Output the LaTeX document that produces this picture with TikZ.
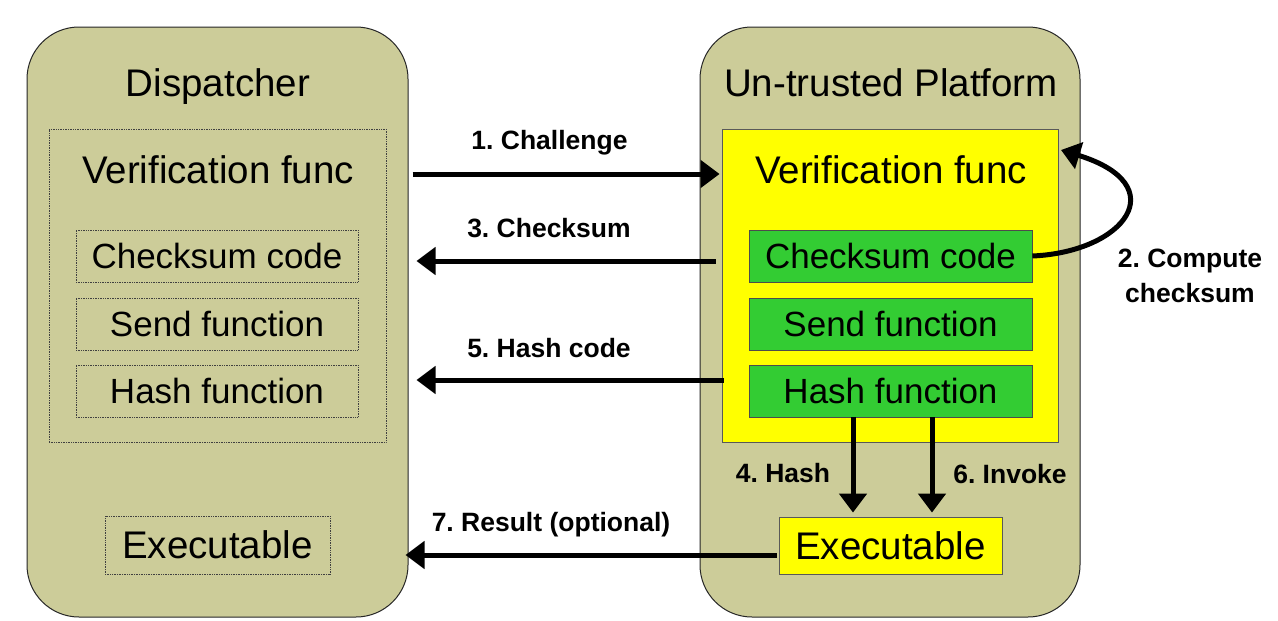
\documentclass[tikz,border=0pt]{standalone}
\usepackage{fontspec}
\setmainfont{Liberation Sans}
\usetikzlibrary{arrows.meta}
\definecolor{olivebg}{RGB}{204,204,153}
\definecolor{yellowbox}{RGB}{255,255,0}
\definecolor{greenbox}{RGB}{51,204,51}
\frenchspacing
\begin{document}
\begin{tikzpicture}[x=1pt,y=-1pt,
  container/.style={draw=black!85,line width=1pt,fill=olivebg,rounded corners=52pt,inner sep=0pt},
  dotbox/.style={draw=black!75,densely dotted,line width=0.7pt,inner sep=0pt},
  ybox/.style={draw=black!65,line width=0.8pt,fill=yellowbox,inner sep=0pt},
  gbox/.style={draw=black!70,line width=0.8pt,fill=greenbox,inner sep=0pt},
  big/.style={font=\fontsize{38.5}{40}\selectfont,inner sep=0pt},
  mid/.style={font=\fontsize{35}{38}\selectfont,inner sep=0pt},
  lbl/.style={font=\bfseries\fontsize{26.5}{35}\selectfont,inner sep=0pt,anchor=base},
  arr/.style={line width=5pt,-{Triangle[length=19pt,width=27pt]}}
]
\useasboundingbox (0,0) rectangle (1278,621);
% containers
\node[container,minimum width=381pt,minimum height=590pt] (L) at (217.5,322) {};
\node[container,minimum width=380pt,minimum height=590pt] (R) at (890,322) {};
\node[big,anchor=base] (Lt) at (218,96) {Dispatcher};
\node[big,anchor=base] (Rt) at (891,96) {Un-trusted Platform};
% left side
\node[dotbox,minimum width=337pt,minimum height=313pt] (Lv) at (217.5,285.5) {};
\node[big] (Lvt) at (218,170) {Verification func};
\node[dotbox,mid,minimum width=282pt,minimum height=52pt] (Lc) at (217,256) {Checksum code};
\node[dotbox,mid,minimum width=282pt,minimum height=52pt] (Ls) at (217,324) {Send function};
\node[dotbox,mid,minimum width=282pt,minimum height=52pt] (Lh) at (217,391) {Hash function};
\node[dotbox,big,minimum width=225pt,minimum height=58pt] (Le) at (217.5,545) {Executable};
% right side
\node[ybox,minimum width=336pt,minimum height=313pt] (Rv) at (890,285.5) {};
\node[big] (Rvt) at (891,170) {Verification func};
\node[gbox,mid,minimum width=283pt,minimum height=52pt] (Rc) at (890.5,256) {Checksum code};
\node[gbox,mid,minimum width=283pt,minimum height=52pt] (Rs) at (890.5,324) {Send function};
\node[gbox,mid,minimum width=283pt,minimum height=52pt] (Rh) at (890.5,391) {Hash function};
\node[ybox,big,minimum width=223pt,minimum height=57pt] (Re) at (890.5,545.5) {Executable};
% arrows
\draw[arr] ([xshift=4pt]L.east |- 0,174) -- ([xshift=-2pt]Rv.west |- 0,174);
\draw[arr] ([xshift=-6pt]Rv.west |- 0,261) -- ([xshift=8pt]L.east |- 0,261);
\draw[arr] ([xshift=2pt]Rv.west |- 0,380) -- ([xshift=8pt]L.east |- 0,380);
\draw[arr] ([xshift=-2pt]Re.west |- 0,555) -- ([xshift=-3pt]L.east |- 0,555);
\draw[arr] (Rh.south -| 853,0) -- ([yshift=4pt]Re.north -| 853,0);
\draw[arr] (Rh.south -| 932,0) -- ([yshift=4pt]Re.north -| 932,0);
\coordinate (cs) at (Rc.east);
\coordinate (ve) at (1061,150);
\draw[arr] (cs) .. controls (1125,252) and (1175,185) .. (ve);
% labels
\node[lbl] (l1) at (549.5,149) {1. Challenge};
\node[lbl] (l3) at (549,237) {3. Checksum};
\node[lbl] (l5) at (549,357) {5. Hash code};
\node[lbl] (l7) at (551,531) {7. Result (optional)};
\node[lbl] (l4) at (783,482) {4. Hash};
\node[lbl] (l6) at (1010,483) {6. Invoke};
\node[lbl] (l2a) at (1190,267) {2. Compute};
\node[lbl] (l2b) at (1190,302) {checksum};
\end{tikzpicture}
\end{document}
